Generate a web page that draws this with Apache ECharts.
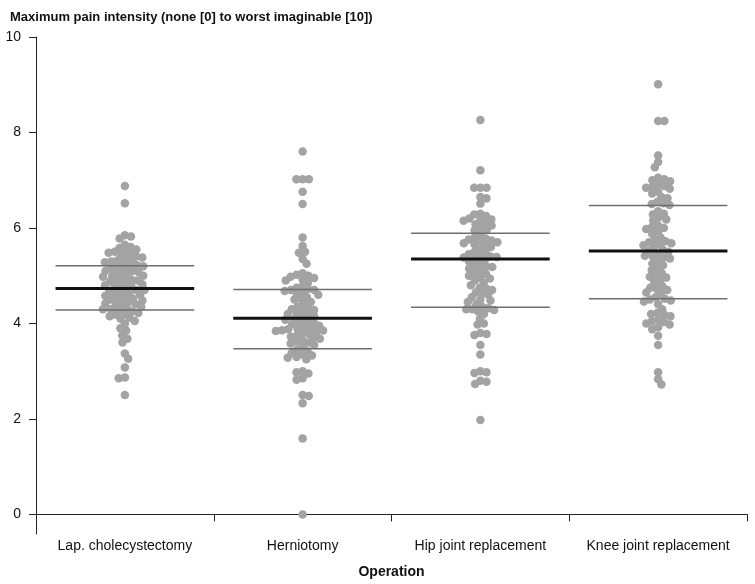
<!DOCTYPE html>
<html>
<head>
<meta charset="utf-8">
<script src="https://cdn.jsdelivr.net/npm/echarts@6/dist/echarts.min.js"></script>
<style>
html,body{margin:0;padding:0;background:#fff;}
#chart{width:755px;height:584px;}
</style>
</head>
<body>
<div id="chart"></div>
<script>
const categories = ['Lap. cholecystectomy', 'Herniotomy', 'Hip joint replacement', 'Knee joint replacement'];
const yTicks = [0, 2, 4, 6, 8, 10];

const lapValues = [6.88, 6.52, 5.85, 5.82, 5.78,
  5.65, 5.6, 5.58, 5.55, 5.52, 5.5, 5.48, 5.45, 5.42, 5.4, 5.38, 5.35, 5.32, 5.3, 5.3, 5.28, 5.25, 5.22, 5.2, 5.2,
  5.18, 5.15, 5.12, 5.1, 5.1, 5.08, 5.05, 5.02, 5.0, 5.0, 4.98, 4.95, 4.92, 4.9, 4.9, 4.88, 4.85, 4.82, 4.8, 4.8,
  4.78, 4.75, 4.72, 4.7, 4.7, 4.68, 4.65, 4.62, 4.6, 4.6, 4.58, 4.55, 4.52, 4.5, 4.5, 4.48, 4.45, 4.42, 4.4, 4.4,
  4.38, 4.35, 4.32, 4.3, 4.3, 4.28, 4.25, 4.22, 4.2, 4.18, 4.15, 4.12, 4.1, 4.05,
  3.99, 3.9, 3.85, 3.75, 3.68, 3.6, 3.37, 3.26, 3.08, 2.87, 2.85, 2.5];

const herniotomyValues = [7.6, 7.02, 7.02, 7.02, 6.76, 6.5, 5.8, 5.62, 5.5, 5.48, 5.35, 5.25, 5.05, 5.02, 5.0, 4.98,
  4.95, 4.92, 4.9, 4.85, 4.78, 4.75, 4.72, 4.7, 4.7, 4.68, 4.65, 4.62, 4.6, 4.55, 4.52, 4.5, 4.45, 4.4, 4.35, 4.32,
  4.3, 4.28, 4.25, 4.22, 4.2, 4.18, 4.15, 4.12, 4.1, 4.08, 4.05, 4.02, 4.0, 3.98, 3.95, 3.92, 3.9, 3.88, 3.88, 3.86,
  3.85, 3.84, 3.82, 3.8, 3.78, 3.75, 3.72, 3.7, 3.68, 3.65, 3.62, 3.6, 3.58, 3.55, 3.5, 3.45, 3.42, 3.38, 3.35, 3.33,
  3.3, 3.28, 3.25, 3.0, 2.98, 2.95, 2.85, 2.82, 2.5, 2.48, 2.33, 1.59, 0];

const hipValues = [8.26, 7.21, 6.84, 6.84, 6.84, 6.65, 6.62, 6.51, 6.3, 6.28, 6.25, 6.2, 6.18, 6.16, 6.15, 6.1, 6.08,
  6.05, 6.0, 5.97, 5.95, 5.85, 5.8, 5.78, 5.76, 5.74, 5.72, 5.7, 5.68, 5.66, 5.64, 5.6, 5.55, 5.5, 5.48, 5.45, 5.42,
  5.4, 5.39, 5.38, 5.36, 5.34, 5.3, 5.25, 5.22, 5.2, 5.18, 5.15, 5.1, 5.06, 5.04, 5.0, 4.96, 4.94, 4.9, 4.85, 4.8,
  4.75, 4.73, 4.7, 4.65, 4.63, 4.6, 4.55, 4.5, 4.48, 4.45, 4.4, 4.35, 4.32, 4.3, 4.3, 4.28, 4.25, 4.2, 4.1, 4.0, 3.98,
  3.8, 3.78, 3.76, 3.55, 3.35, 3.0, 2.98, 2.96, 2.8, 2.78, 2.73, 1.98];

const kneeValues = [9.01, 8.24, 8.24, 7.52, 7.38, 7.27, 7.05, 7.02, 7.0, 6.98, 6.9, 6.88, 6.86, 6.84, 6.82, 6.76, 6.72,
  6.65, 6.62, 6.55, 6.52, 6.5, 6.48, 6.35, 6.3, 6.28, 6.22, 6.18, 6.15, 6.05, 6.02, 6.0, 5.98, 5.92, 5.88, 5.8, 5.75,
  5.72, 5.7, 5.68, 5.66, 5.64, 5.6, 5.55, 5.52, 5.5, 5.45, 5.42, 5.4, 5.38, 5.36, 5.3, 5.25, 5.22, 5.15, 5.12, 5.05,
  5.0, 4.98, 4.96, 4.9, 4.85, 4.78, 4.75, 4.72, 4.7, 4.65, 4.62, 4.55, 4.52, 4.5, 4.48, 4.46, 4.4, 4.3, 4.22, 4.2,
  4.18, 4.15, 4.08, 4.05, 4.03, 4.0, 3.98, 3.92, 3.88, 3.74, 3.55, 2.98, 2.83, 2.72];

const centralValues = [4.73, 4.11, 5.35, 5.52];
const upperValues = [5.21, 4.71, 5.89, 6.47];
const lowerValues = [4.28, 3.47, 4.34, 4.52];

const groups = [lapValues, herniotomyValues, hipValues, kneeValues];

const FONT = "'Liberation Sans', Arial, sans-serif";
const chart = echarts.init(document.getElementById('chart'), null, {renderer: 'canvas'});

const baseOption = {
  animation: false,
  backgroundColor: '#ffffff',
  title: {
    text: 'Maximum pain intensity (none [0] to worst imaginable [10])',
    left: 5, top: 6,
    textStyle: {fontFamily: FONT, fontSize: 13, fontWeight: 'bold', color: '#111'}
  },
  grid: {left: 36, right: 8, top: 37, bottom: 43, containLabel: false},
  xAxis: [{
    type: 'category',
    data: categories,
    boundaryGap: true,
    axisLine: {lineStyle: {color: '#222', width: 1}},
    axisTick: {show: true, length: 7, lineStyle: {color: '#222'}},
    axisLabel: {fontFamily: FONT, fontSize: 14, color: '#111', margin: 5, interval: 0},
    name: 'Operation',
    nameLocation: 'middle',
    nameGap: 31,
    nameTextStyle: {fontFamily: FONT, fontSize: 14, fontWeight: 'bold', color: '#111'},
    splitLine: {show: false}
  }, {
    type: 'value', min: 0, max: categories.length, show: false
  }],
  yAxis: [{
    type: 'value',
    min: -0.41, max: 10,
    axisLine: {show: true, lineStyle: {color: '#222', width: 1}},
    axisTick: {show: true, length: 7, lineStyle: {color: '#222'}, customValues: yTicks},
    axisLabel: {fontFamily: FONT, fontSize: 14, color: '#111', margin: 15, customValues: yTicks},
    splitLine: {show: false}
  }],
  series: [{type: 'scatter', xAxisIndex: 1, yAxisIndex: 0, data: []}]
};
chart.setOption(baseOption);

function swarm(values, center, diam) {
  const cx = chart.convertToPixel({xAxisIndex: 1}, center);
  const pts = values.map(v => ({v: v, y: chart.convertToPixel({yAxisIndex: 0}, v)}));
  pts.sort((a, b) => a.y - b.y);
  const placed = [];
  let flip = 1;
  for (const p of pts) {
    const blocks = [];
    for (const q of placed) {
      const dy = Math.abs(q.y - p.y);
      if (dy < diam) {
        const w = Math.sqrt(diam * diam - dy * dy);
        blocks.push([q.x - w, q.x + w]);
      }
    }
    const cands = [0];
    blocks.forEach(b => { cands.push(b[0] - 0.01, b[1] + 0.01); });
    let best = null;
    for (const c of cands) {
      let ok = true;
      for (const b of blocks) { if (c > b[0] && c < b[1]) { ok = false; break; } }
      if (!ok) continue;
      if (best === null || Math.abs(c) < Math.abs(best) - 0.5 ||
          (Math.abs(Math.abs(c) - Math.abs(best)) <= 0.5 && Math.sign(c) === flip)) best = c;
    }
    if (best !== 0) flip = -flip;
    p.x = best;
    placed.push(p);
  }
  return placed.map(p => [chart.convertFromPixel({xAxisIndex: 1}, cx + p.x), p.v]);
}

const pointData = [];
groups.forEach((vals, i) => { swarm(vals, i + 0.5, 6.2).forEach(d => pointData.push(d)); });

const halfW = 0.39;
function statLine(vals, color, width, z) {
  return vals.map((v, i) => ({
    type: 'line', xAxisIndex: 1, yAxisIndex: 0, z: z,
    data: [[i + 0.5 - halfW, v], [i + 0.5 + halfW, v]],
    symbol: 'none', silent: true,
    lineStyle: {color: color, width: width}
  }));
}

const series = [{
  type: 'scatter', xAxisIndex: 1, yAxisIndex: 0,
  data: pointData, symbol: 'circle', symbolSize: 8.5,
  itemStyle: {color: '#a3a3a3', opacity: 1},
  silent: true, z: 2
}].concat(statLine(upperValues, '#6e6e6e', 1.5, 3))
  .concat(statLine(lowerValues, '#6e6e6e', 1.5, 3))
  .concat(statLine(centralValues, '#111111', 3, 4));

chart.setOption({series: series}, {replaceMerge: ['series']});
</script>
</body>
</html>
